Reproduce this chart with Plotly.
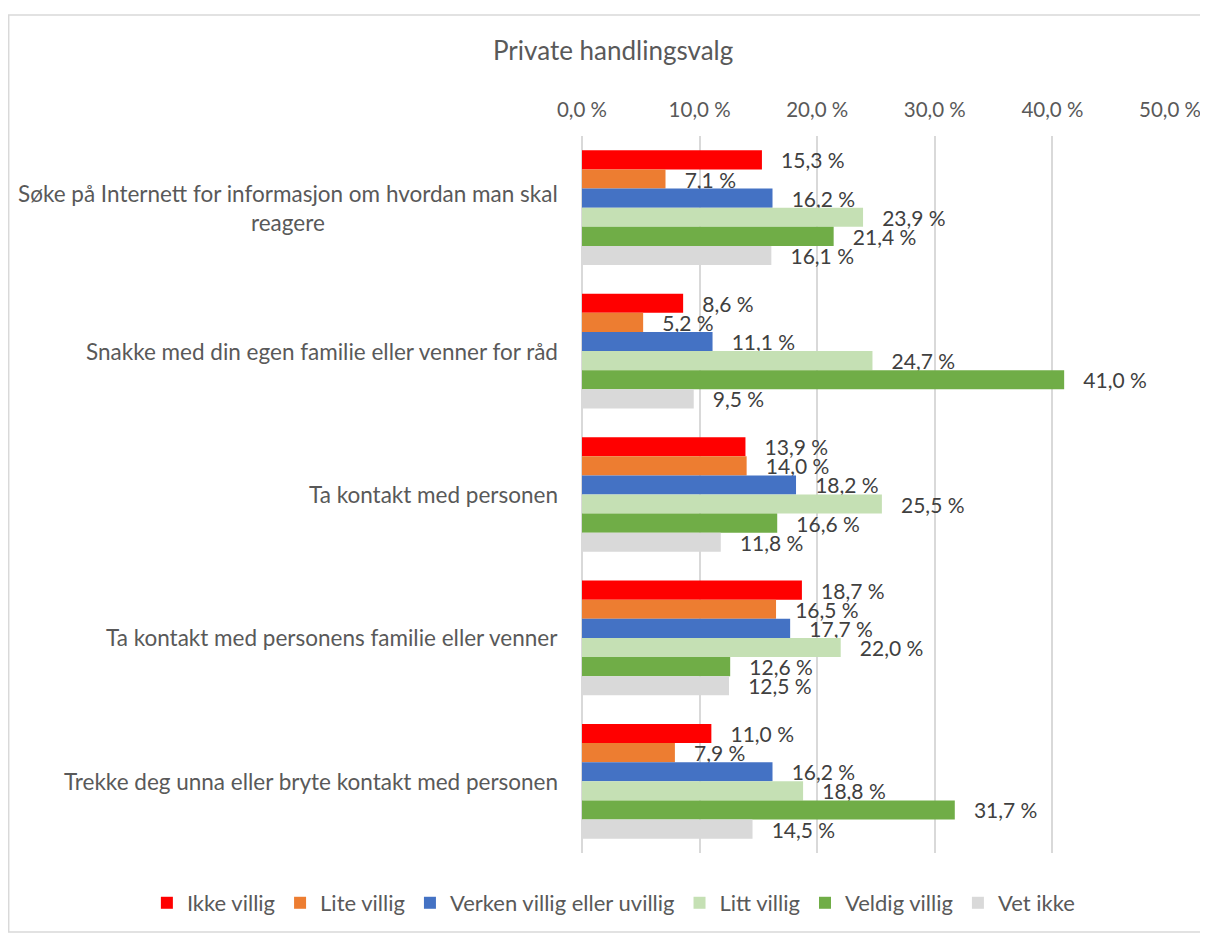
import plotly.graph_objects as go

categories = [
    "Søke på Internett for informasjon om hvordan man skal<br>reagere",
    "Snakke med din egen familie eller venner for råd",
    "Ta kontakt med personen",
    "Ta kontakt med personens familie eller venner",
    "Trekke deg unna eller bryte kontakt med personen",
]
series_names = ["Ikke villig", "Lite villig", "Verken villig eller uvillig",
                "Litt villig", "Veldig villig", "Vet ikke"]
ikke_villig = [15.3, 8.6, 13.9, 18.7, 11.0]
lite_villig = [7.1, 5.2, 14.0, 16.5, 7.9]
verken = [16.2, 11.1, 18.2, 17.7, 16.2]
litt_villig = [23.9, 24.7, 25.5, 22.0, 18.8]
veldig_villig = [21.4, 41.0, 16.6, 12.6, 31.7]
vet_ikke = [16.1, 9.5, 11.8, 12.5, 14.5]
tick_values = [0, 10, 20, 30, 40, 50]

colors = ["#FF0000", "#ED7D31", "#4472C4", "#C5E0B4", "#70AD47", "#D9D9D9"]
all_series = [ikke_villig, lite_villig, verken, litt_villig, veldig_villig, vet_ikke]


def pct(v):
    return f"{v:.1f}".replace(".", ",") + " %"


FONT = "Lato"
TXT = "#595959"

fig = go.Figure()
for name, vals, col in zip(series_names, all_series, colors):
    labels = ["\u00a0\u00a0\u00a0" + pct(v) for v in vals]
    fig.add_trace(go.Bar(
        y=categories, x=vals, name=name, orientation="h",
        marker=dict(color=col, line=dict(width=0)),
        text=labels, textposition="outside", constraintext="none",
        textfont=dict(family=FONT, size=21, color="#404040"),
        cliponaxis=False,
    ))

annotations = []
for c in categories:
    annotations.append(dict(
        text=c, xref="paper", x=-0.037, yref="y", y=c,
        xanchor="right", yanchor="middle", align="center", showarrow=False,
        font=dict(family=FONT, size=22.5, color=TXT),
    ))
annotations.append(dict(
    text="Private handlingsvalg", xref="paper", x=0.053, yref="paper", y=1.12,
    xanchor="center", yanchor="middle", showarrow=False,
    font=dict(family=FONT, size=26, color=TXT),
))

fig.update_layout(
    width=1200, height=926,
    margin=dict(l=574, r=38, t=128, b=81, autoexpand=False),
    paper_bgcolor="white", plot_bgcolor="white",
    barmode="group", bargap=0.2, bargroupgap=0,
    font=dict(family=FONT, size=21, color=TXT),
    showlegend=True,
    legend=dict(orientation="h", x=-0.74, xanchor="left",
                y=-0.0697, yanchor="middle",
                font=dict(family=FONT, size=22, color=TXT), traceorder="normal"),
    annotations=annotations,
    shapes=[dict(type="rect", xref="paper", yref="paper",
                 x0=-0.975, x1=1.0765, y0=-0.1102, y1=1.1688,
                 line=dict(color="#D9D9D9", width=1.5), fillcolor="rgba(0,0,0,0)", layer="below")],
    xaxis=dict(side="top", range=[0, 50], tickvals=tick_values,
               ticktext=[pct(t) for t in tick_values],
               showgrid=True, gridcolor="#D9D9D9", gridwidth=1.5,
               zeroline=True, zerolinecolor="#D9D9D9", zerolinewidth=1.5,
               showline=False, ticks="", ticklabelstandoff=14,
               tickfont=dict(family=FONT, size=20.5, color=TXT), fixedrange=True),
    yaxis=dict(autorange="reversed", showticklabels=False, showgrid=False,
               zeroline=False, showline=False, ticks=""),
)

fig.write_html("out.html")
